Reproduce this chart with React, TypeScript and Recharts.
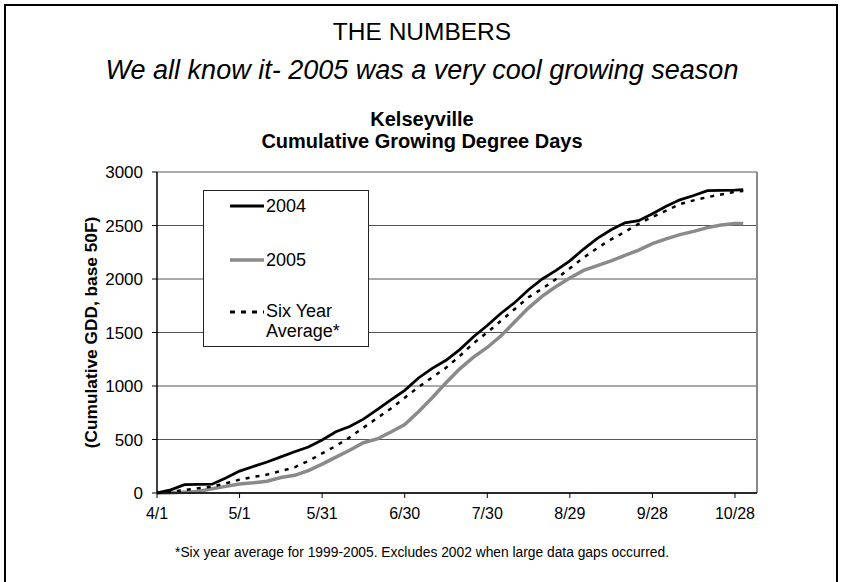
import { LineChart, Line, XAxis, YAxis, CartesianGrid, Legend, ReferenceLine } from "recharts"

// days after 4/1
const days = [0, 5, 10, 15, 20, 25, 30, 35, 40, 45, 50, 55, 60, 65, 70, 75, 80, 85, 90, 95, 100, 105, 110, 115, 120, 125, 130, 135, 140, 145, 150, 155, 160, 165, 170, 175, 180, 185, 190, 195, 200, 205, 210, 213]

const gdd2004 = [0, 30, 78, 80, 82, 140, 205, 248, 290, 338, 385, 430, 495, 572, 622, 690, 780, 870, 960, 1075, 1165, 1240, 1340, 1460, 1565, 1680, 1780, 1900, 2000, 2080, 2170, 2280, 2380, 2460, 2525, 2545, 2610, 2680, 2740, 2780, 2825, 2828, 2830, 2835]

const gdd2005 = [0, 3, 8, 15, 40, 62, 85, 95, 110, 145, 165, 210, 270, 335, 400, 470, 505, 570, 640, 760, 890, 1030, 1160, 1270, 1360, 1470, 1600, 1730, 1840, 1930, 2010, 2080, 2125, 2170, 2220, 2270, 2330, 2375, 2415, 2445, 2480, 2505, 2518, 2518]

const sixYearAvg = [0, 12, 28, 45, 60, 90, 125, 150, 172, 205, 240, 300, 370, 440, 520, 610, 700, 790, 890, 990, 1080, 1170, 1280, 1400, 1500, 1610, 1720, 1830, 1910, 2000, 2100, 2200, 2290, 2370, 2440, 2515, 2580, 2640, 2700, 2735, 2765, 2790, 2815, 2822]

const tickDays = [0, 30, 60, 90, 120, 150, 180, 210]
const tickLabels = ["4/1", "5/1", "5/31", "6/30", "7/30", "8/29", "9/28", "10/28"]
const yTicks = [0, 500, 1000, 1500, 2000, 2500, 3000]
const seriesNames = ["2004", "2005", "Six Year Average*"]

const data = days.map((d, i) => ({
  day: d,
  y2004: gdd2004[i],
  y2005: gdd2005[i],
  avg: sixYearAvg[i],
}))

const font = "'Liberation Sans', Arial, sans-serif"

const LegendBox = () => (
  <div style={{ position: "relative", width: 166, height: 157, border: "1.5px solid #222", background: "#fff", boxSizing: "border-box", fontFamily: font, fontSize: 18, color: "#000" }}>
    <svg width={40} height={150} style={{ position: "absolute", left: 24, top: 0 }}>
      <line x1={2} x2={36} y1={15} y2={15} stroke="#000" strokeWidth={3} />
      <line x1={2} x2={36} y1={69} y2={69} stroke="#8a8a8a" strokeWidth={3.5} />
      <line x1={2} x2={36} y1={121} y2={121} stroke="#000" strokeWidth={3} strokeDasharray="5 6" />
    </svg>
    <div style={{ position: "absolute", left: 62, top: 4, lineHeight: "22px" }}>{seriesNames[0]}</div>
    <div style={{ position: "absolute", left: 62, top: 58, lineHeight: "22px" }}>{seriesNames[1]}</div>
    <div style={{ position: "absolute", left: 62, top: 110, lineHeight: "20px", width: 100 }}>{seriesNames[2]}</div>
  </div>
)

const YTitle = (props: any) => {
  const vb = props.viewBox
  const cy = vb.y + vb.height / 2
  return (
    <text x={91} y={cy} transform={`rotate(-90 91 ${cy})`} textAnchor="middle" dominantBaseline="central" fontFamily={font} fontSize={17.3} fontWeight="bold" fill="#000">
      (Cumulative GDD, base 50F)
    </text>
  )
}

export default function App() {
  return (
    <div style={{ position: "absolute", left: 0, top: 0, width: 844, height: 582, overflow: "hidden", background: "#fff", fontFamily: font }}>
      <div style={{ position: "absolute", left: 4, top: 4, width: 834, height: 640, border: "2px solid #000", boxSizing: "border-box" }} />
      <div style={{ position: "absolute", left: 0, width: 844, top: 18, textAlign: "center", fontSize: 24.5, lineHeight: "28px" }}>THE NUMBERS</div>
      <div style={{ position: "absolute", left: 0, width: 844, top: 54, textAlign: "center", fontSize: 27, fontStyle: "italic", lineHeight: "32px" }}>We all know it- 2005 was a very cool growing season</div>
      <div style={{ position: "absolute", left: 0, width: 844, top: 108, textAlign: "center", fontSize: 20, fontWeight: "bold", lineHeight: "22px" }}>Kelseyville<br />Cumulative Growing Degree Days</div>
      <div style={{ position: "absolute", left: 0, width: 844, top: 544, textAlign: "center", fontSize: 13.8, lineHeight: "18px" }}>*Six year average for 1999-2005. Excludes 2002 when large data gaps occurred.</div>
      <div style={{ position: "absolute", left: 0, top: 0 }}>
        <LineChart width={844} height={582} data={data} margin={{ top: 172, right: 87, bottom: 59, left: 0 }}>
          <CartesianGrid vertical={false} stroke="#555" strokeWidth={1} />
          <XAxis
            dataKey="day"
            type="number"
            domain={[0, 218]}
            ticks={tickDays}
            tickFormatter={(v: number) => tickLabels[tickDays.indexOf(v)]}
            height={30}
            stroke="#000"
            tickSize={5}
            tickMargin={10}
            tick={{ fill: "#000", fontSize: 16, fontFamily: font }}
            axisLine={{ stroke: "#000", strokeWidth: 1.5 }}
            allowDataOverflow
          />
          <YAxis
            domain={[0, 3000]}
            ticks={yTicks}
            width={157}
            stroke="#000"
            tickSize={5}
            tickMargin={9}
            tick={{ fill: "#000", fontSize: 17, fontFamily: font }}
            axisLine={{ stroke: "#000", strokeWidth: 1.5 }}
            label={YTitle}
          />
          <ReferenceLine x={218} stroke="#888" strokeWidth={2} />
          <Line type="linear" dataKey="y2005" name={seriesNames[1]} stroke="#8a8a8a" strokeWidth={3.5} dot={false} isAnimationActive={false} />
          <Line type="linear" dataKey="avg" name={seriesNames[2]} stroke="#000" strokeWidth={2.5} strokeDasharray="4 6" dot={false} isAnimationActive={false} />
          <Line type="linear" dataKey="y2004" name={seriesNames[0]} stroke="#000" strokeWidth={2.8} dot={false} isAnimationActive={false} />
          <Legend layout="vertical" align="center" verticalAlign="middle" content={LegendBox} wrapperStyle={{ left: 203, top: 190, width: 166 }} />
        </LineChart>
      </div>
    </div>
  )
}
